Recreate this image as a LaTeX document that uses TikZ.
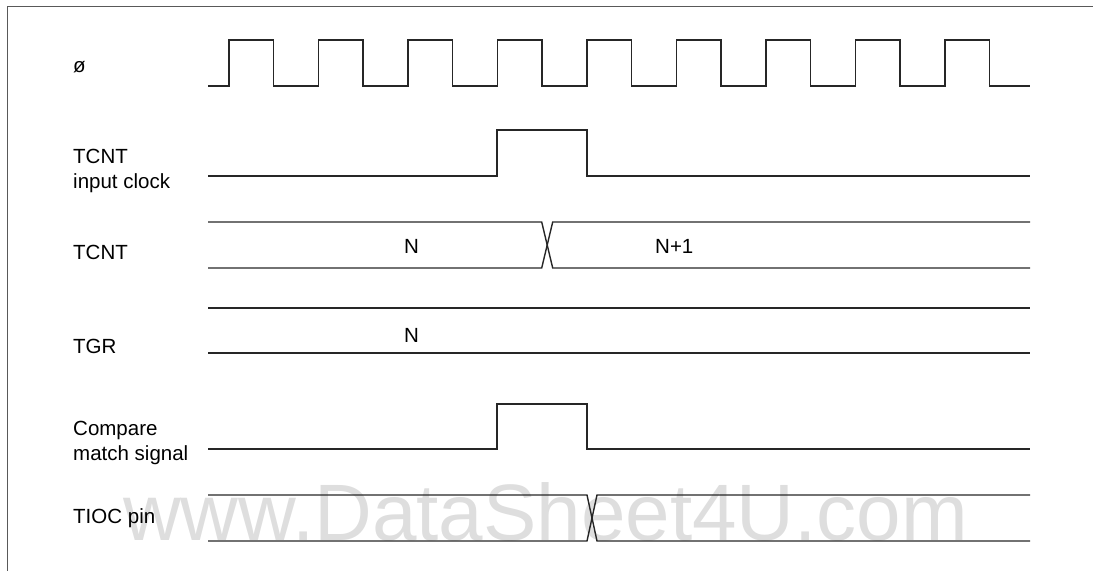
\documentclass[tikz,border=0pt]{standalone}
\usepackage{fontspec}
\setmainfont{Liberation Sans}
\begin{document}
\begin{tikzpicture}[
  x=1bp, y=-1bp,
  wave/.style  = {line width=1.4bp, black!85, line join=miter},
  frame/.style = {line width=1bp, black!65},
  lbl/.style   = {font=\fontsize{20.5bp}{24bp}\selectfont, anchor=base west, inner sep=0pt},
  wmark/.style = {font=\fontsize{80bp}{90bp}\selectfont, text=black!13, anchor=base west, inner sep=0pt},
]
\useasboundingbox (0,0) rectangle (1093,571);

\def\xs{208}    % x: start of every trace
\def\xe{1030}   % x: end of every trace
\def\ha{497}    % x: pulse rises
\def\hb{587}    % x: pulse falls

% ---- watermark (behind everything) ------------------------------------------
\node[wmark] (wmk) at (123,540) {www.DataSheet4U.com};

% ---- frame ------------------------------------------------------------------
\draw[frame] (1093,7) -- (7,7) -- (7,571);

% ---- signal names -----------------------------------------------------------
\node[lbl] (lclk)  at (73,72.5) {ø};
\node[lbl] (lina)  at (73,164)  {TCNT};
\node[lbl] (linb)  at (73,189)  {input clock};
\node[lbl] (lcnt)  at (73,260)  {TCNT};
\node[lbl] (ltgr)  at (73,353)  {TGR};
\node[lbl] (lcma)  at (73,435)  {Compare};
\node[lbl] (lcmb)  at (73,460)  {match signal};
\node[lbl] (ltioc) at (73,523)  {TIOC pin};

% ---- system clock -----------------------------------------------------------
\draw[wave] (\xs,86)
  \foreach \i in {0,...,8} { -- ({229+89.5*\i},86) -- ++(0,-46) -- ++(44.5,0) -- ++(0,46) }
  -- (\xe,86);

% ---- TCNT input clock -------------------------------------------------------
\draw[wave] (\xs,176) -- (\ha,176) -- (\ha,130) -- (\hb,130) -- (\hb,176) -- (\xe,176);

% ---- TCNT: N -> N+1 ---------------------------------------------------------
\draw[wave] (\xs,222) -- (541.7,222) -- (552.7,268) -- (\xe,268);
\draw[wave] (\xs,268) -- (541.7,268) -- (552.7,222) -- (\xe,222);
\node[lbl] (vcnta) at (404,254) {N};
\node[lbl] (vcntb) at (655,254) {N+1};

% ---- TGR --------------------------------------------------------------------
\draw[wave] (\xs,308) -- (\xe,308);
\draw[wave] (\xs,353) -- (\xe,353);
\node[lbl] (vtgr) at (404,342) {N};

% ---- compare match signal ---------------------------------------------------
\draw[wave] (\xs,449) -- (\ha,449) -- (\ha,404) -- (\hb,404) -- (\hb,449) -- (\xe,449);

% ---- TIOC pin ---------------------------------------------------------------
\draw[wave] (\xs,495) -- (587,495) -- (597,541) -- (\xe,541);
\draw[wave] (\xs,541) -- (587,541) -- (597,495) -- (\xe,495);

\end{tikzpicture}
\end{document}
